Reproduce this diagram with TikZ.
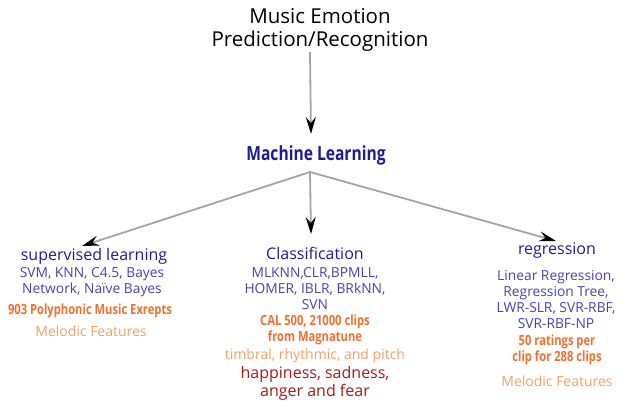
\documentclass[tikz,border=0pt]{standalone}
\usepackage{fontspec}
\setmainfont{Open Sans}
\newfontfamily\condf[FakeStretch=0.8]{Open Sans}
\usetikzlibrary{arrows.meta}
\definecolor{navy}{HTML}{1C1C96}
\definecolor{midblue}{HTML}{4444B0}
\definecolor{orng}{HTML}{F07030}
\definecolor{lorng}{HTML}{F5A063}
\definecolor{dred}{HTML}{A01C1C}
\definecolor{lgray}{HTML}{A4A4A4}
\tikzset{
  txt/.style={inner sep=0pt, align=center},
  title/.style={txt, font=\fontsize{20.5}{23}\selectfont, text=black},
  head/.style={txt, font=\fontsize{16}{19}\selectfont, text=navy},
  mlhead/.style={txt, font=\condf\bfseries\fontsize{19.5}{21}\selectfont, text=navy},
  algo/.style={txt, font=\fontsize{13.8}{16}\selectfont, text=midblue},
  data/.style={txt, font=\condf\bfseries\fontsize{14}{16}\selectfont, text=orng},
  feat/.style={txt, font=\fontsize{14}{17}\selectfont, text=lorng},
  emo/.style={txt, font=\fontsize{16}{17.5}\selectfont, text=dred},
  conn/.style={draw=lgray, line width=1.8pt, -{Stealth[length=17pt,width=10pt,inset=6pt,color=black]}},
}
\begin{document}
\begin{tikzpicture}[x=1pt,y=-1pt]
\useasboundingbox (0,0) rectangle (632,400);
\node[title] (t) at (320,30) {Music Emotion\\Prediction/Recognition};
\node[mlhead] (ml) at (316,155) {Machine Learning};
\coordinate (apex) at (310,172);
% left
\node[head] (sup) at (94,256) {supervised learning};
\node[algo] (supalg) at (92,282) {SVM, KNN, C4.5, Bayes\\Network, Naïve Bayes};
\node[data] (supdata) at (90,311) {903 Polyphonic Music Exrepts};
\node[feat] (supfeat) at (91,331) {Melodic Features};
% middle
\node[head] (cls) at (315,253) {Classification};
\node[algo] (clsalg) at (315,289) {MLKNN,CLR,BPMLL,\\HOMER, IBLR, BRkNN,\\SVN};
\node[data] (clsdata) at (315,330) {CAL 500, 21000 clips\\from Magnatune};
\node[feat] (clsfeat) at (315,356) {timbral, rhythmic, and pitch};
\node[emo] (clsemo) at (315,383.5) {happiness, sadness,\\anger and fear};
% right
\node[head] (reg) at (557,251) {regression};
\node[algo] (regalg) at (556,299) {Linear Regression,\\Regression Tree,\\LWR-SLR, SVR-RBF,\\SVR-RBF-NP};
\node[data] (regdata) at (557,350) {50 ratings per\\clip for 288 clips};
\node[feat] (regfeat) at (557,381) {Melodic Features};
% connectors
\draw[conn] (310,52) -- (311,134);
\draw[conn] (apex) -- (82,246);
\draw[conn] (apex) -- (311,234);
\draw[conn] (apex) -- (556,241);
\end{tikzpicture}
\end{document}
